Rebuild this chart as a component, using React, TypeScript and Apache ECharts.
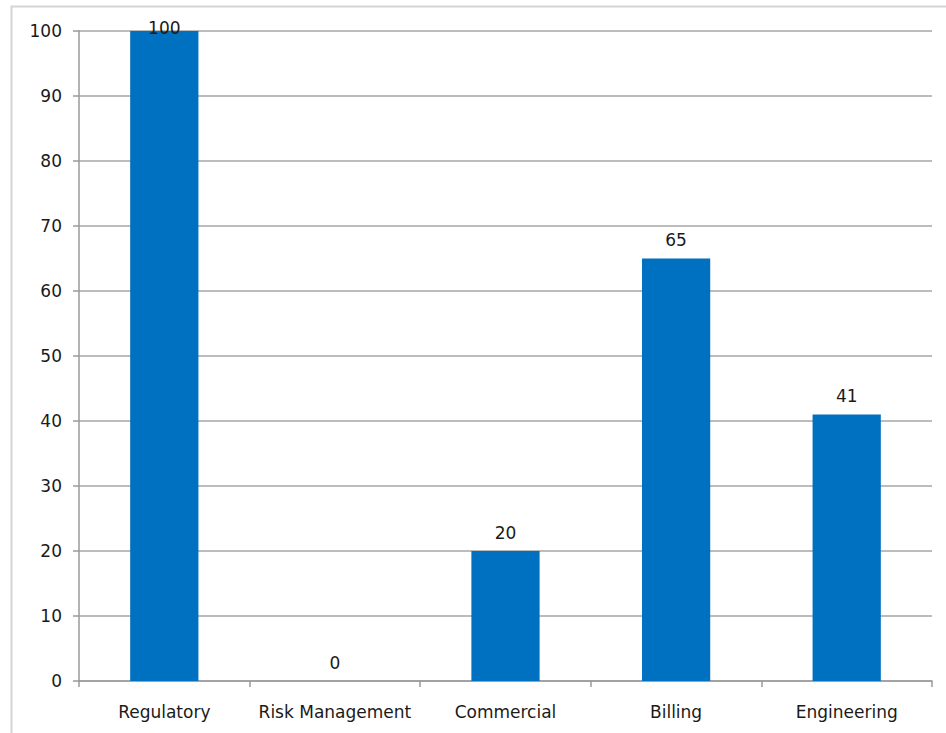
import React, { useEffect, useRef } from "react";
import * as echarts from "echarts";

const categories = ["Regulatory", "Risk Management", "Commercial", "Billing", "Engineering"];
const values = [100, 0, 20, 65, 41];
const yTicks = [0, 10, 20, 30, 40, 50, 60, 70, 80, 90, 100];

export default function App() {
  const ref = useRef<HTMLDivElement>(null);
  useEffect(() => {
    if (!ref.current) return;
    const chart = echarts.init(ref.current, null, { renderer: "svg" });
    const font = "'DejaVu Sans', sans-serif";
    chart.setOption({
      animation: false,
      backgroundColor: "#ffffff",
      graphic: [
        {
          type: "rect",
          shape: { x: 11.5, y: 6.5, width: 1000, height: 800 },
          style: { fill: "none", stroke: "#d4d4d4", lineWidth: 2 },
          silent: true,
          z: -1,
        },
      ],
      grid: { left: 79, top: 31, right: 14, bottom: 52, containLabel: false },
      xAxis: {
        type: "category",
        data: categories,
        axisLine: { show: true, lineStyle: { color: "#9a9a9a", width: 1.5 } },
        axisTick: { show: true, interval: 0, length: 6, lineStyle: { color: "#9a9a9a", width: 1.5 }, alignWithLabel: false },
        axisLabel: { interval: 0, color: "#1a1a1a", fontSize: 17, fontFamily: font, margin: 22 },
        splitLine: { show: false },
      },
      yAxis: {
        type: "value",
        min: 0,
        max: 100,
        interval: 10,
        axisLine: { show: true, lineStyle: { color: "#9a9a9a", width: 1.5 } },
        axisTick: { show: true, length: 6, lineStyle: { color: "#9a9a9a", width: 1.5 } },
        axisLabel: {
          color: "#1a1a1a",
          fontSize: 17,
          fontFamily: font,
          margin: 17,
          formatter: (v: number) => (yTicks.includes(v) ? String(v) : ""),
        },
        splitLine: { show: true, lineStyle: { color: "#a6a6a6", width: 1.5 } },
      },
      series: [
        {
          type: "bar",
          data: values.map((v, i) =>
            i === 0 ? { value: v, label: { distance: -5 } } : { value: v }
          ),
          barWidth: "40%",
          itemStyle: { color: "#0070C0" },
          label: {
            show: true,
            position: "top",
            distance: 10,
            color: "#1a1a1a",
            fontSize: 17,
            fontFamily: font,
          },
        },
      ],
    });
    return () => chart.dispose();
  }, []);
  return (
    <div
      ref={ref}
      style={{ position: "fixed", left: 0, top: 0, width: 946, height: 733 }}
    />
  );
}
